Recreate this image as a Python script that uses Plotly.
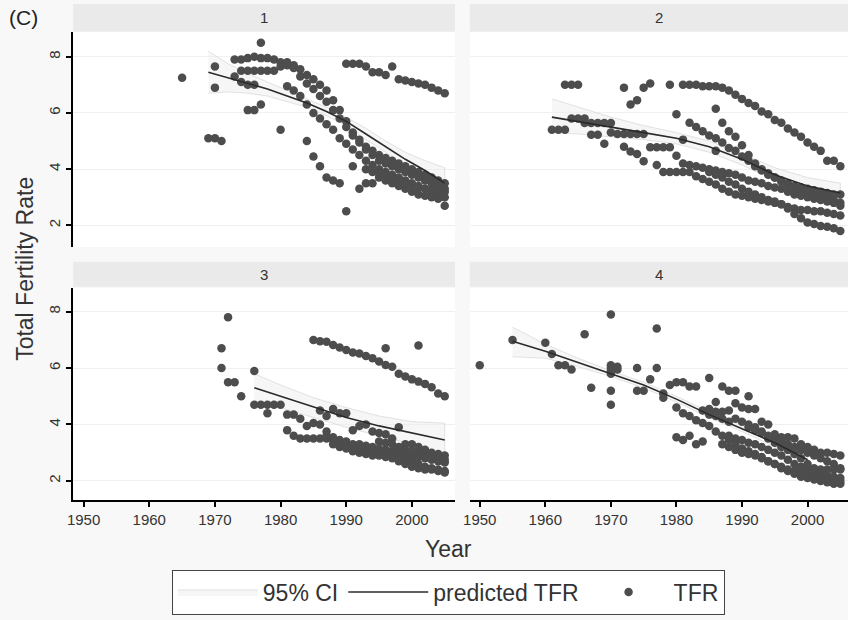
import plotly.graph_objects as go

# ---------------- data ----------------
panel_labels = ["1", "2", "3", "4"]
x_ticks = [1950, 1960, 1970, 1980, 1990, 2000]
y_ticks = [2, 4, 6, 8]

p1_points = [
    (1965, 7.25), (1970, 7.65), (1970, 6.9), (1969, 5.1), (1970, 5.1), (1971, 5.0),
    (1977, 8.5), (1980, 5.4), (1975, 6.1), (1976, 6.1), (1977, 6.3), (1973, 7.3),
    (1973, 7.9), (1974, 7.9), (1975, 7.95), (1976, 8.0), (1977, 7.95), (1978, 7.95), (1979, 7.9),
    (1974, 7.5), (1975, 7.5), (1976, 7.5), (1977, 7.5), (1978, 7.5), (1979, 7.5),
    (1974, 7.1), (1975, 7.0), (1976, 7.0),
    (1980, 7.8), (1981, 7.8), (1982, 7.7), (1983, 7.55), (1984, 7.35), (1985, 7.2), (1986, 7.0),
    (1987, 6.8), (1988, 6.45), (1989, 6.1), (1990, 5.7), (1991, 5.3), (1992, 5.05), (1993, 4.8),
    (1994, 4.65), (1995, 4.5), (1996, 4.4), (1997, 4.3), (1998, 4.2), (1999, 4.1), (2000, 4.0),
    (2001, 3.9), (2002, 3.8), (2003, 3.7), (2004, 3.6), (2005, 3.5),
    (1980, 7.65), (1981, 7.7), (1982, 7.6), (1983, 7.3), (1984, 7.05), (1985, 6.85), (1986, 6.6),
    (1987, 6.4), (1988, 6.1), (1989, 5.8), (1990, 5.5), (1991, 5.2), (1992, 4.95), (1993, 4.7),
    (1994, 4.5), (1995, 4.3), (1996, 4.2), (1997, 4.1), (1998, 4.0), (1999, 3.9), (2000, 3.8),
    (2001, 3.7), (2002, 3.6), (2003, 3.5), (2004, 3.4), (2005, 3.3),
    (1981, 6.95), (1982, 6.8), (1983, 6.6), (1984, 6.3), (1985, 6.0), (1986, 5.8), (1987, 5.6),
    (1988, 5.4), (1989, 5.1), (1990, 4.9), (1991, 4.7), (1992, 4.5), (1993, 4.3), (1994, 4.15),
    (1995, 4.0), (1996, 3.9), (1997, 3.8), (1998, 3.7), (1999, 3.6), (2000, 3.5), (2001, 3.4),
    (2002, 3.3), (2003, 3.2), (2004, 3.1), (2005, 3.0),
    (1984, 5.0), (1985, 4.45), (1986, 4.1), (1987, 3.7), (1988, 3.6), (1989, 3.5), (1990, 2.5),
    (1991, 4.1), (1992, 3.3), (1993, 3.5), (1994, 3.5), (1995, 3.7), (1996, 3.6), (1997, 3.5),
    (1998, 3.4), (1999, 3.3), (2000, 3.2), (2001, 3.1), (2002, 3.05), (2003, 3.0), (2004, 2.95),
    (2005, 2.7),
    (1990, 7.75), (1991, 7.75), (1992, 7.75), (1993, 7.65), (1994, 7.45), (1995, 7.45), (1996, 7.35),
    (1997, 7.65), (1998, 7.2), (1999, 7.15), (2000, 7.1), (2001, 7.05), (2002, 7.0), (2003, 6.9),
    (2004, 6.8), (2005, 6.7),
    (1993, 4.0), (1994, 3.9), (1995, 3.85), (1996, 3.8), (1997, 3.7), (1998, 3.6), (1999, 3.5),
    (2000, 3.45), (2001, 3.35), (2002, 3.3), (2003, 3.25), (2004, 3.2), (2005, 3.2),
]
p1_fit_year = [1969, 1972, 1975, 1978, 1981, 1984, 1987, 1990, 1993, 1996, 1999, 2002, 2005]
p1_fit = [7.45, 7.25, 7.05, 6.85, 6.6, 6.35, 6.05, 5.7, 5.25, 4.8, 4.35, 3.95, 3.5]
p1_ci_hi = [8.2, 7.75, 7.4, 7.1, 6.8, 6.5, 6.2, 5.85, 5.45, 5.0, 4.6, 4.3, 4.05]
p1_ci_lo = [6.7, 6.75, 6.7, 6.6, 6.4, 6.2, 5.9, 5.55, 5.05, 4.6, 4.1, 3.6, 3.0]

p2_points = [
    (1963, 7.0), (1964, 7.0), (1965, 7.0), (1961, 5.4), (1962, 5.4), (1963, 5.4),
    (1972, 6.9), (1975, 6.9), (1976, 7.05), (1973, 6.3), (1974, 6.45), (1979, 7.0),
    (1980, 5.95), (1977, 4.15), (1967, 5.22), (1968, 5.22), (1969, 4.9),
    (1981, 7.0), (1982, 7.0), (1983, 7.0), (1984, 6.95), (1985, 6.95), (1986, 6.95), (1987, 6.9),
    (1988, 6.8), (1989, 6.65), (1990, 6.5), (1991, 6.35), (1992, 6.25), (1993, 6.05), (1994, 5.95),
    (1995, 5.75), (1996, 5.65), (1997, 5.45), (1998, 5.3), (1999, 5.15), (2000, 4.95), (2001, 4.8),
    (2002, 4.65), (2003, 4.3), (2004, 4.3), (2005, 4.1),
    (1964, 5.8), (1965, 5.8), (1966, 5.8), (1966, 5.64), (1967, 5.64), (1968, 5.64), (1969, 5.64),
    (1970, 5.64), (1970, 5.3), (1971, 5.25), (1972, 5.25), (1973, 5.25), (1974, 5.25), (1975, 5.25),
    (1981, 5.05), (1986, 4.65),
    (1972, 4.8), (1973, 4.63), (1974, 4.54), (1975, 4.28),
    (1976, 4.78), (1977, 4.78), (1978, 4.78), (1979, 4.78),
    (1978, 3.9), (1979, 3.9), (1980, 3.9), (1981, 3.9), (1982, 3.9), (1983, 3.75), (1984, 3.65),
    (1985, 3.55), (1986, 3.45), (1987, 3.3), (1988, 3.2), (1989, 3.1), (1990, 3.05), (1991, 3.0),
    (1992, 2.95), (1993, 2.9), (1994, 2.85), (1995, 2.8), (1996, 2.75), (1997, 2.65), (1998, 2.6),
    (1999, 2.55), (2000, 2.55), (2001, 2.5), (2002, 2.5), (2003, 2.45), (2004, 2.4), (2005, 2.35),
    (1985, 3.9), (1986, 3.8), (1987, 3.7), (1988, 3.55), (1989, 3.45), (1990, 3.3), (1991, 3.2),
    (1992, 3.1), (1993, 3.0), (1994, 2.9), (1995, 2.85), (1996, 2.75), (1997, 2.6), (1998, 2.4),
    (1999, 2.25), (2000, 2.1), (2001, 2.05), (2002, 1.98), (2003, 1.95), (2004, 1.9), (2005, 1.8),
    (1982, 5.65), (1983, 5.5), (1984, 5.35), (1985, 5.2), (1986, 5.1), (1987, 4.95), (1988, 4.75),
    (1989, 4.65), (1990, 4.45), (1991, 4.3), (1992, 4.1), (1993, 3.95), (1994, 3.8), (1995, 3.7),
    (1996, 3.6), (1997, 3.5), (1998, 3.4), (1999, 3.35), (2000, 3.3), (2001, 3.25), (2002, 3.2),
    (2003, 3.15), (2004, 3.1), (2005, 3.1),
    (1986, 6.15), (1987, 5.65), (1988, 5.35), (1989, 5.15), (1990, 4.85), (1991, 4.5), (1992, 4.2),
    (1993, 4.0), (1994, 3.85), (1995, 3.7), (1996, 3.55), (1997, 3.45), (1998, 3.35), (1999, 3.25),
    (2000, 3.2), (2001, 3.1), (2002, 3.05), (2003, 3.0), (2004, 2.9), (2005, 2.8),
    (1980, 4.48), (1981, 4.2), (1982, 4.15), (1983, 4.1), (1984, 4.05), (1985, 4.0), (1986, 3.95),
    (1987, 3.9), (1988, 3.85), (1989, 3.8), (1990, 3.7), (1991, 3.6), (1992, 3.55), (1993, 3.5),
    (1994, 3.4), (1995, 3.35), (1996, 3.3), (1997, 3.2), (1998, 3.1), (1999, 3.05), (2000, 3.0),
    (2001, 2.95), (2002, 2.9), (2003, 2.85), (2004, 2.8), (2005, 2.7),
]
p2_fit_year = [1961, 1965, 1970, 1975, 1980, 1985, 1990, 1995, 2000, 2005]
p2_fit = [5.85, 5.7, 5.5, 5.3, 5.1, 4.8, 4.35, 3.8, 3.4, 3.15]
p2_ci_hi = [6.5, 6.2, 5.85, 5.55, 5.3, 5.0, 4.55, 4.05, 3.7, 3.5]
p2_ci_lo = [5.3, 5.25, 5.15, 5.05, 4.9, 4.6, 4.15, 3.6, 3.15, 2.85]

p3_points = [
    (1971, 6.7), (1971, 6.0), (1972, 7.8), (1972, 5.5), (1973, 5.5), (1974, 5.0), (1976, 5.9),
    (1978, 4.4), (1996, 6.7), (2001, 6.8),
    (1976, 4.7), (1977, 4.7), (1978, 4.7), (1979, 4.7), (1980, 4.7),
    (1985, 7.0), (1986, 6.95), (1987, 6.93), (1988, 6.82), (1989, 6.73), (1990, 6.64), (1991, 6.55),
    (1992, 6.52), (1993, 6.43), (1994, 6.35), (1995, 6.23), (1996, 6.11), (1997, 6.05), (1998, 5.8),
    (1999, 5.7), (2000, 5.6), (2001, 5.52), (2002, 5.44), (2003, 5.32), (2004, 5.1), (2005, 5.0),
    (1986, 4.5), (1987, 4.3), (1988, 4.55), (1989, 4.4), (1990, 4.4), (1991, 3.8), (1992, 3.95),
    (1993, 4.0), (1994, 3.75), (1995, 3.7), (1996, 3.65), (1997, 3.5), (1998, 3.9), (1999, 3.3),
    (2000, 3.3), (2001, 3.2), (2002, 3.1), (2003, 3.0), (2004, 2.95), (2005, 2.9),
    (1981, 4.35), (1982, 4.35), (1983, 4.2), (1984, 3.95), (1985, 4.05), (1986, 4.0), (1987, 3.75),
    (1988, 3.55), (1989, 3.45), (1990, 3.4), (1991, 3.3), (1992, 3.3), (1993, 3.25), (1994, 3.2),
    (1995, 3.15), (1996, 3.1), (1997, 3.05), (1998, 3.0), (1999, 2.95), (2000, 2.9), (2001, 2.85),
    (2002, 2.8), (2003, 2.75), (2004, 2.7), (2005, 2.65),
    (1981, 3.8), (1982, 3.6), (1983, 3.5), (1984, 3.5), (1985, 3.5), (1986, 3.5), (1987, 3.5),
    (1988, 3.45), (1989, 3.3), (1990, 3.2), (1991, 3.15), (1992, 3.1), (1993, 3.05), (1994, 3.0),
    (1995, 3.0), (1996, 2.95), (1997, 2.9), (1998, 2.85), (1999, 2.8), (2000, 2.7), (2001, 2.6),
    (2002, 2.5), (2003, 2.45), (2004, 2.4), (2005, 2.35),
    (1987, 3.6), (1988, 3.3), (1989, 3.2), (1990, 3.15), (1991, 3.05), (1992, 3.0), (1993, 2.95),
    (1994, 2.9), (1995, 2.9), (1996, 2.85), (1997, 2.8), (1998, 2.7), (1999, 2.6), (2000, 2.5),
    (2001, 2.45), (2002, 2.4), (2003, 2.4), (2004, 2.35), (2005, 2.3),
    (1995, 3.4), (1996, 3.35), (1997, 3.3), (1998, 3.2), (1999, 3.1), (2000, 3.05), (2001, 3.0),
    (2002, 2.95), (2003, 2.85), (2004, 2.8), (2005, 2.75),
]
p3_fit_year = [1976, 1980, 1985, 1990, 1995, 2000, 2005]
p3_fit = [5.3, 5.0, 4.6, 4.25, 3.95, 3.7, 3.45]
p3_ci_hi = [5.8, 5.4, 4.95, 4.6, 4.3, 4.1, 4.05]
p3_ci_lo = [4.8, 4.6, 4.25, 3.9, 3.6, 3.3, 2.85]

p4_points = [
    (1950, 6.1), (1955, 7.0), (1960, 6.9), (1961, 6.5), (1962, 6.1), (1963, 6.1), (1964, 5.95),
    (1966, 7.2), (1967, 5.3), (1970, 7.9), (1970, 6.0), (1970, 5.9), (1970, 5.8), (1970, 6.1),
    (1971, 5.95), (1971, 6.05), (1970, 5.2), (1970, 4.7), (1974, 6.0), (1974, 5.2), (1975, 5.2),
    (1976, 5.6), (1977, 7.4), (1977, 6.0), (1978, 5.1), (1978, 4.95),
    (1979, 5.4), (1980, 5.5), (1981, 5.5), (1982, 5.35), (1983, 5.35),
    (1980, 3.55), (1981, 3.45), (1982, 3.6), (1983, 3.3), (1984, 3.4),
    (1985, 5.65), (1986, 4.8), (1987, 5.35), (1988, 5.2), (1989, 5.2), (1991, 5.0),
    (1985, 4.55), (1986, 4.45), (1987, 4.45), (1988, 4.5), (1989, 4.75), (1990, 4.6), (1991, 4.55),
    (1992, 4.55), (1993, 4.1), (1994, 4.0), (1995, 3.65), (1996, 3.55), (1997, 3.55), (1998, 3.5),
    (1999, 3.3), (2000, 3.2), (2001, 3.1), (2002, 3.0), (2003, 3.0), (2004, 2.95), (2005, 2.9),
    (1984, 4.5), (1985, 4.35), (1986, 4.3), (1987, 4.2), (1988, 4.1), (1989, 4.2), (1990, 4.1),
    (1991, 4.0), (1992, 3.9), (1993, 3.75), (1994, 3.6), (1995, 3.5), (1996, 3.4), (1997, 3.3),
    (1998, 3.2), (1999, 3.1), (2000, 3.0), (2001, 2.9), (2002, 2.8), (2003, 2.7), (2004, 2.6),
    (2005, 2.45),
    (1980, 4.6), (1981, 4.4), (1982, 4.3), (1983, 4.15), (1984, 4.05), (1985, 3.95), (1986, 3.75),
    (1987, 3.6), (1988, 3.45), (1989, 3.3), (1990, 3.15), (1991, 3.05), (1992, 2.95), (1993, 2.85),
    (1994, 2.7), (1995, 2.6), (1996, 2.45), (1997, 2.35), (1998, 2.25), (1999, 2.15), (2000, 2.1),
    (2001, 2.05), (2002, 2.0), (2003, 1.95), (2004, 1.9), (2005, 1.9),
    (1987, 3.3), (1988, 3.2), (1989, 3.1), (1990, 3.0), (1991, 2.95), (1992, 2.9), (1993, 2.8),
    (1994, 2.7), (1995, 2.6), (1996, 2.5), (1997, 2.4), (1998, 2.35), (1999, 2.3), (2000, 2.25),
    (2001, 2.2), (2002, 2.1), (2003, 2.05), (2004, 2.0), (2005, 2.0),
    (1988, 3.6), (1989, 3.5), (1990, 3.45), (1991, 3.35), (1992, 3.3), (1993, 3.2), (1994, 3.1),
    (1995, 3.0), (1996, 2.9), (1997, 2.75), (1998, 2.6), (1999, 2.5), (2000, 2.45), (2001, 2.4),
    (2002, 2.4), (2003, 2.4), (2004, 2.4), (2005, 2.4),
    (1991, 3.9), (1992, 3.8), (1993, 3.7), (1994, 3.5), (1995, 3.35), (1996, 3.2), (1997, 3.1),
    (1998, 2.95), (1999, 2.8), (2000, 2.6), (2001, 2.45), (2002, 2.3), (2003, 2.2), (2004, 2.15),
    (2005, 2.1),
]
p4_fit_year = [1955, 1960, 1965, 1970, 1975, 1980, 1985, 1990, 1995, 2000]
p4_fit = [6.95, 6.6, 6.2, 5.8, 5.4, 4.9, 4.35, 3.85, 3.35, 2.75]
p4_ci_hi = [7.45, 6.85, 6.35, 5.9, 5.5, 5.0, 4.45, 3.95, 3.5, 2.95]
p4_ci_lo = [6.4, 6.35, 6.05, 5.7, 5.3, 4.8, 4.25, 3.75, 3.2, 2.55]

# ---------------- figure ----------------
W, H = 848, 620
DOT = "#4d4d4d"
FONT = "Liberation Sans, Arial, sans-serif"

panels = [
    (p1_points, p1_fit_year, p1_fit, p1_ci_lo, p1_ci_hi),
    (p2_points, p2_fit_year, p2_fit, p2_ci_lo, p2_ci_hi),
    (p3_points, p3_fit_year, p3_fit, p3_ci_lo, p3_ci_hi),
    (p4_points, p4_fit_year, p4_fit, p4_ci_lo, p4_ci_hi),
]

fig = go.Figure()
for i, (pts, fy, fv, lo, hi) in enumerate(panels):
    ax = "" if i == 0 else str(i + 1)
    xa, ya = "x" + ax, "y" + ax
    first = i == 0
    fig.add_trace(go.Scatter(
        x=list(fy) + list(fy)[::-1], y=list(hi) + list(lo)[::-1],
        mode="lines", fill="toself", fillcolor="rgba(238,238,238,0.55)",
        line=dict(color="#dadada", width=0.8), name="95% CI",
        showlegend=first, legendrank=1, xaxis=xa, yaxis=ya, hoverinfo="skip"))
    fig.add_trace(go.Scatter(
        x=[p[0] for p in pts], y=[p[1] for p in pts], mode="markers",
        marker=dict(color=DOT, size=8.5, line=dict(width=0)), name="TFR",
        showlegend=first, legendrank=3, xaxis=xa, yaxis=ya))
    fig.add_trace(go.Scatter(
        x=fy, y=fv, mode="lines", line=dict(color="#2b2b2b", width=1.6),
        name="predicted TFR", showlegend=first, legendrank=2, xaxis=xa, yaxis=ya))

L0, L1 = 67.0 / W, 451.7 / W
R0, R1 = 466.7 / W, 1.0
T0, T1 = 1 - 247 / H, 1 - 31.7 / H
B0, B1 = 1 - 499.5 / H, 1 - 288 / H
xr_left = [1948.45, 2006.56]
xr_right = [1948.49, 2006.17]
yr_top = [1.23, 8.89]
yr_bot = [1.34, 8.84]

grid = "#f0f0f0"
common_x = dict(showgrid=False, zeroline=False, tickvals=x_ticks, fixedrange=True)
common_y = dict(showgrid=True, gridcolor=grid, gridwidth=1, zeroline=False, tickvals=y_ticks)
tick_style = dict(ticks="outside", ticklen=5, tickwidth=1.5, tickcolor="#000",
                  tickfont=dict(size=15, color="#333", family=FONT))

fig.update_layout(
    xaxis=dict(domain=[L0, L1], range=xr_left, anchor="y", showticklabels=False, ticks="", showline=False, **common_x),
    xaxis2=dict(domain=[R0, R1], range=xr_right, anchor="y2", showticklabels=False, ticks="", showline=False, **common_x),
    xaxis3=dict(domain=[L0, L1], range=xr_left, anchor="y3", showline=True, linecolor="#000", linewidth=2,
                **tick_style, **common_x),
    xaxis4=dict(domain=[R0, R1], range=xr_right, anchor="y4", showline=True, linecolor="#000", linewidth=2,
                **tick_style, **common_x),
    yaxis=dict(domain=[T0, T1], range=yr_top, anchor="x", showline=True, linecolor="#000", linewidth=2,
               tickangle=-90, **tick_style, **common_y),
    yaxis2=dict(domain=[T0, T1], range=yr_top, anchor="x2", showticklabels=False, ticks="", showline=False, **common_y),
    yaxis3=dict(domain=[B0, B1], range=yr_bot, anchor="x3", showline=True, linecolor="#000", linewidth=2,
                tickangle=-90, **tick_style, **common_y),
    yaxis4=dict(domain=[B0, B1], range=yr_bot, anchor="x4", showticklabels=False, ticks="", showline=False, **common_y),
    width=W, height=H,
    margin=dict(l=0, r=0, t=0, b=0),
    paper_bgcolor="#f8f8f8", plot_bgcolor="#ffffff",
    font=dict(family=FONT, color="#333"),
    showlegend=True,
    legend=dict(orientation="h", x=445 / W, xanchor="center", y=1 - 592 / H, yanchor="middle",
                bgcolor="#ffffff", bordercolor="#444", borderwidth=1,
                font=dict(size=23, color="#333", family=FONT), itemwidth=80,
                traceorder="normal"),
)

# facet strips
strips = [
    (66.7, 451.7, 4, 31.7), (466.7, 848, 4, 31.7),
    (66.7, 451.7, 261.7, 286.7), (466.7, 848, 261.7, 286.7),
]
for (x0, x1, y0, y1), lab in zip(strips, panel_labels):
    fig.add_shape(type="rect", xref="paper", yref="paper",
                  x0=x0 / W, x1=x1 / W, y0=1 - y1 / H, y1=1 - y0 / H,
                  fillcolor="#eaeaea", line=dict(width=0), layer="below")
    fig.add_annotation(text=lab, xref="paper", yref="paper",
                       x=(x0 + x1) / 2 / W, y=1 - (y0 + y1) / 2 / H,
                       showarrow=False, font=dict(size=15, color="#333"),
                       xanchor="center", yanchor="middle")

fig.add_annotation(text="(C)", xref="paper", yref="paper", x=0, y=1 - 17 / H,
                   showarrow=False, xanchor="left", yanchor="middle",
                   font=dict(size=21, color="#222"))
fig.add_annotation(text="Total Fertility Rate", xref="paper", yref="paper", x=18 / W, y=1 - 269 / H,
                   showarrow=False, textangle=-90, xanchor="center", yanchor="middle",
                   font=dict(size=23, color="#333"))
fig.add_annotation(text="Year", xref="paper", yref="paper", x=445 / W, y=1 - 549 / H,
                   showarrow=False, xanchor="center", yanchor="middle",
                   font=dict(size=23, color="#333"))

fig.write_html("out.html", config={"displayModeBar": False},
               post_script="document.body.style.margin='0';document.body.style.padding='0';"
                           "document.body.style.overflow='hidden';")
